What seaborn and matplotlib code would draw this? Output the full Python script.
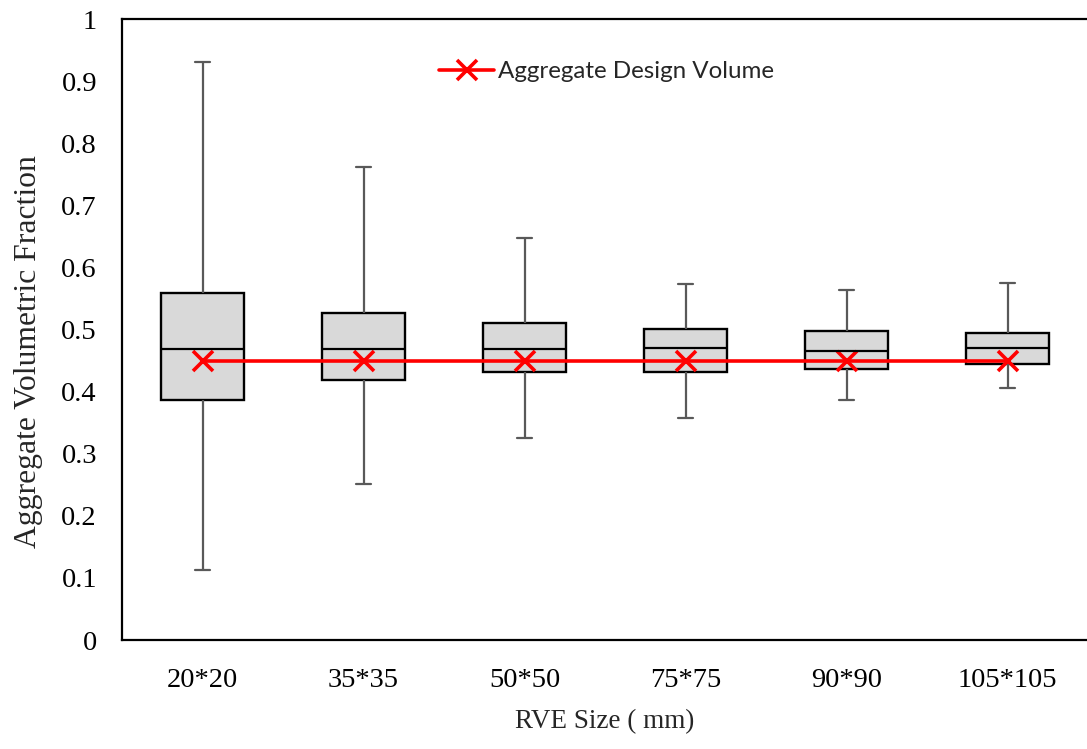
import numpy as np
import pandas as pd
import matplotlib
matplotlib.use("Agg")
import matplotlib.pyplot as plt
import seaborn as sns

categories = ["20*20", "35*35", "50*50", "75*75", "90*90", "105*105"]
whisker_low = [0.112, 0.251, 0.326, 0.357, 0.387, 0.405]
q1 = [0.386, 0.418, 0.432, 0.431, 0.437, 0.444]
median = [0.469, 0.469, 0.469, 0.470, 0.465, 0.470]
q3 = [0.559, 0.527, 0.511, 0.501, 0.497, 0.495]
whisker_high = [0.930, 0.762, 0.648, 0.573, 0.564, 0.575]
design_volume = [0.45, 0.45, 0.45, 0.45, 0.45, 0.45]
y_ticks = [0, 0.1, 0.2, 0.3, 0.4, 0.5, 0.6, 0.7, 0.8, 0.9, 1]
y_tick_labels = ["0", "0.1", "0.2", "0.3", "0.4", "0.5", "0.6", "0.7", "0.8", "0.9", "1"]

# five-number summaries as data rows (min, q1, median, q3, max)
rows = []
for i, c in enumerate(categories):
    for v in (whisker_low[i], q1[i], median[i], q3[i], whisker_high[i]):
        rows.append({"size": c, "value": v})
df = pd.DataFrame(rows)

sns.set_style("white")
plt.rcParams["font.family"] = ["Liberation Serif", "DejaVu Serif"]

fig = plt.figure(figsize=(10.87, 7.49), dpi=100)
ax = fig.add_axes([122 / 1087, (749 - 640) / 749, 966 / 1087, 621 / 749])

sns.boxplot(data=df, x="size", y="value", order=categories, ax=ax,
            whis=(0, 100), width=0.51, color="#d9d9d9", linecolor="black",
            linewidth=1.7, fliersize=0, saturation=1,
            whiskerprops={"color": "#595959", "linewidth": 1.6},
            capprops={"color": "#595959", "linewidth": 1.6},
            medianprops={"color": "black", "linewidth": 1.6},
            boxprops={"edgecolor": "black", "linewidth": 1.7},
            capwidths=0.09)

xpos = np.arange(len(categories))
sns.lineplot(x=xpos, y=design_volume, ax=ax, color="red", linewidth=2.6,
             marker="x", markersize=14, markeredgewidth=2.6,
             markeredgecolor="red", label="Aggregate Design Volume")

ax.set_xlim(-0.5, len(categories) - 0.5)
ax.set_ylim(0, 1)
ax.set_yticks(y_ticks)
ax.set_yticklabels(y_tick_labels)
ax.set_xticks(xpos)
ax.set_xticklabels(categories)
ax.set_xticks(np.arange(len(categories) - 1) + 0.5, minor=True)

ax.tick_params(axis="y", which="major", direction="in", length=7, width=1.2,
               labelsize=20.5, pad=18, colors="black")
ax.tick_params(axis="x", which="major", length=0, labelsize=20.5, pad=20,
               colors="black")
ax.tick_params(axis="x", which="minor", direction="in", length=8, width=1.5)

for s in ["left", "bottom", "top"]:
    ax.spines[s].set_visible(True)
    ax.spines[s].set_color("black")
    ax.spines[s].set_linewidth(1.6)
ax.spines["right"].set_visible(False)

ax.set_xlabel("RVE Size ( mm)", fontsize=19.5, labelpad=12)
ax.set_ylabel("Aggregate Volumetric Fraction", fontsize=22.8)
ax.yaxis.set_label_coords(-0.082, 0.465)

leg = ax.legend(loc="center", bbox_to_anchor=(0.5016, 0.915), frameon=False,
                handlelength=2.27, handletextpad=0.15,
                prop={"family": ["Lato", "DejaVu Sans"], "size": 17.4})

fig.savefig("out.png", dpi=100)
